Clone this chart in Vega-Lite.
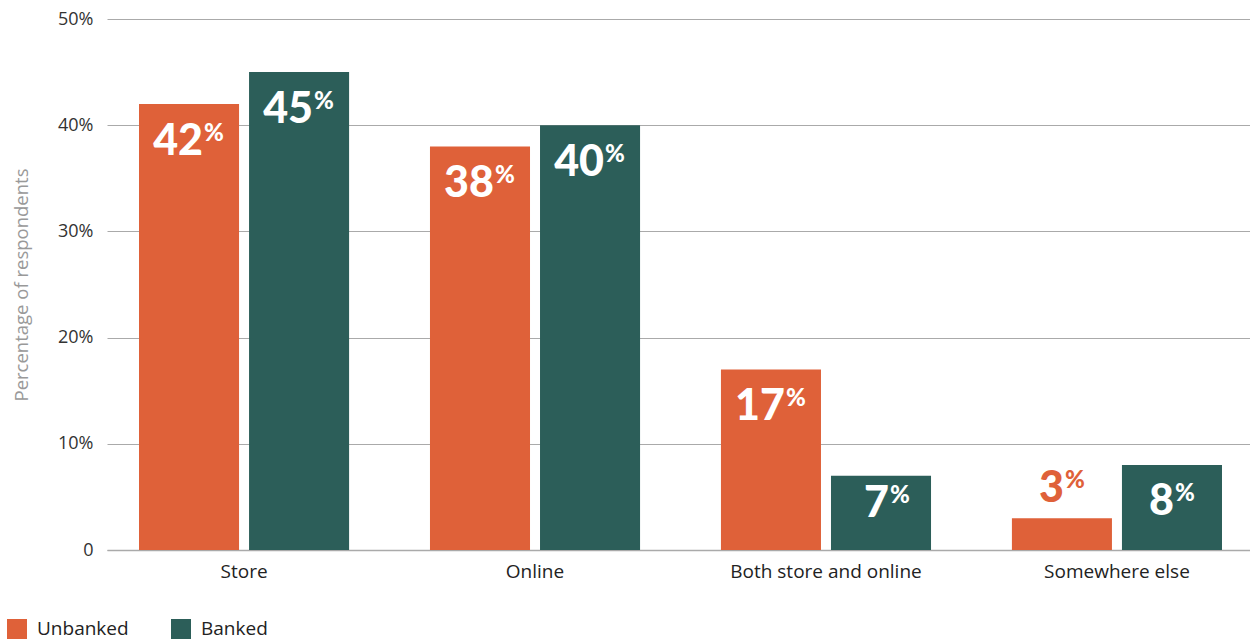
{
  "$schema": "https://vega.github.io/schema/vega-lite/v6.json",
  "autosize": {"type": "none"},
  "width": 1147,
  "height": 531,
  "padding": {"left": 107, "top": 19, "right": 0, "bottom": 90},
  "background": "white",
  "config": {
    "view": {"stroke": null},
    "font": "Open Sans"
  },
  "data": {
    "values": [
      {"place": "Store", "group": "Unbanked", "value": 42},
      {"place": "Store", "group": "Banked", "value": 45},
      {"place": "Online", "group": "Unbanked", "value": 38},
      {"place": "Online", "group": "Banked", "value": 40},
      {"place": "Both store and online", "group": "Unbanked", "value": 17},
      {"place": "Both store and online", "group": "Banked", "value": 7},
      {"place": "Somewhere else", "group": "Unbanked", "value": 3},
      {"place": "Somewhere else", "group": "Banked", "value": 8}
    ]
  },
  "encoding": {
    "x": {
      "field": "place", "type": "nominal", "sort": null,
      "scale": {"paddingInner": 0.278, "paddingOuter": 0.11},
      "axis": {"title": null, "labelAngle": 0, "ticks": false, "domain": true, "domainColor": "#aaaaaa", "domainWidth": 1.5, "labelFontSize": 19, "labelColor": "#222222", "labelPadding": 12, "labelFont": "Open Sans", "labelLimit": 0}
    },
    "xOffset": {"field": "group", "type": "nominal", "sort": ["Unbanked", "Banked"], "scale": {"paddingInner": 0.0909, "paddingOuter": 0}},
    "y": {
      "field": "value", "type": "quantitative",
      "scale": {"domain": [0, 50], "nice": false},
      "axis": {"title": "Percentage of respondents", "titleColor": "#999999", "titleFontSize": 18.5, "titleFontWeight": "normal", "titleFont": "Open Sans", "titlePadding": 26,
        "values": [0, 10, 20, 30, 40, 50], "labelExpr": "datum.value == 0 ? '0' : datum.value + '%'",
        "labelFontSize": 18, "labelColor": "#333333", "labelPadding": 14, "ticks": false, "domain": false,
        "grid": true, "gridColor": "#aaaaaa", "gridWidth": 1}
    }
  },
  "layer": [
    {
      "mark": {"type": "bar"},
      "encoding": {
        "color": {"field": "group", "type": "nominal",
          "scale": {"domain": ["Unbanked", "Banked"], "range": ["#DF6139", "#2C5E59"]},
          "legend": {"title": null, "orient": "none", "legendX": -100, "legendY": 600, "direction": "horizontal",
            "symbolType": "square", "symbolSize": 400, "symbolStrokeWidth": 0, "labelFontSize": 19, "labelColor": "#222222",
            "labelFont": "Open Sans", "columnPadding": 42, "labelOffset": 10}
        }
      }
    },
    {
      "transform": [{"filter": "datum.value >= 10"}],
      "mark": {"type": "text", "align": "right", "baseline": "alphabetic", "dx": 14, "dy": 51, "fontSize": 43, "fontWeight": 900, "font": "Lato", "color": "white"},
      "encoding": {"text": {"field": "value", "type": "quantitative"}}
    },
    {
      "transform": [{"filter": "datum.value >= 10"}],
      "mark": {"type": "text", "align": "left", "baseline": "alphabetic", "dx": 15, "dy": 37, "fontSize": 24, "fontWeight": 900, "font": "Lato", "color": "white"},
      "encoding": {"text": {"value": "%"}}
    },
    {
      "transform": [{"filter": "datum.value >= 8 && datum.value < 10"}],
      "mark": {"type": "text", "align": "right", "baseline": "alphabetic", "dx": 2, "dy": 50, "fontSize": 43, "fontWeight": 900, "font": "Lato", "color": "white"},
      "encoding": {"text": {"field": "value", "type": "quantitative"}}
    },
    {
      "transform": [{"filter": "datum.value >= 8 && datum.value < 10"}],
      "mark": {"type": "text", "align": "left", "baseline": "alphabetic", "dx": 3, "dy": 36, "fontSize": 24, "fontWeight": 900, "font": "Lato", "color": "white"},
      "encoding": {"text": {"value": "%"}}
    },
    {
      "transform": [{"filter": "datum.value >= 5 && datum.value < 8"}],
      "mark": {"type": "text", "align": "right", "baseline": "alphabetic", "dx": 8, "dy": 41, "fontSize": 43, "fontWeight": 900, "font": "Lato", "color": "white"},
      "encoding": {"text": {"field": "value", "type": "quantitative"}}
    },
    {
      "transform": [{"filter": "datum.value >= 5 && datum.value < 8"}],
      "mark": {"type": "text", "align": "left", "baseline": "alphabetic", "dx": 9, "dy": 27, "fontSize": 24, "fontWeight": 900, "font": "Lato", "color": "white"},
      "encoding": {"text": {"value": "%"}}
    },
    {
      "transform": [{"filter": "datum.value < 5"}],
      "mark": {"type": "text", "align": "right", "baseline": "alphabetic", "dx": 2, "dy": -16, "fontSize": 43, "fontWeight": 900, "font": "Lato", "color": "#DF6139"},
      "encoding": {"text": {"field": "value", "type": "quantitative"}}
    },
    {
      "transform": [{"filter": "datum.value < 5"}],
      "mark": {"type": "text", "align": "left", "baseline": "alphabetic", "dx": 3, "dy": -30, "fontSize": 24, "fontWeight": 900, "font": "Lato", "color": "#DF6139"},
      "encoding": {"text": {"value": "%"}}
    }
  ]
}
